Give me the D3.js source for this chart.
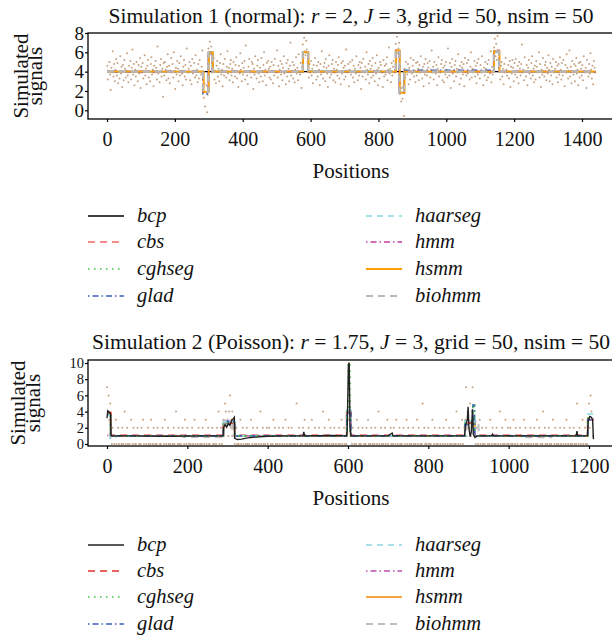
<!DOCTYPE html>
<html>
<head>
<meta charset="utf-8">
<script src="https://cdnjs.cloudflare.com/ajax/libs/d3/7.8.5/d3.min.js"></script>
<style>
  body { margin: 0; background: #fff; }
  svg { display: block; font-family: "Liberation Serif", "DejaVu Serif", serif; }
</style>
</head>
<body>
<div id="chart"></div>
<script>
const W = 612, H = 636;

const methods = ["bcp", "cbs", "cghseg", "glad", "haarseg", "hmm", "hsmm", "biohmm"];

// ---- simulation 1 (normal), observed signal every 2nd position from 1
const sig1 = [
4.6,3.2,4.1,5.0,3.7,2.1,4.4,3.9,6.1,3.5,4.8,3.0,4.2,5.3,3.6,4.9,2.8,4.0,3.3,5.6,3.8,4.5,2.4,4.7,3.1,5.2,4.3,3.4,4.1,5.9,3.6,2.9,4.6,4.0,5.1,3.2,4.4,6.3,3.7,4.8,2.6,4.2,3.5,5.0,4.1,3.0,4.7,3.8,5.4,2.3,4.5,3.9,4.9,3.3,4.0,5.7,3.6,4.3,2.7,4.6,
5.2,3.4,4.1,3.0,4.8,5.5,3.7,4.2,2.5,4.6,3.9,5.1,4.4,3.2,6.6,3.8,4.0,2.9,4.7,5.3,3.5,4.3,1.4,4.9,3.6,5.0,4.2,3.1,4.5,5.8,3.3,4.6,2.8,4.1,5.4,3.9,4.8,3.4,6.0,4.0,2.2,4.4,3.7,5.1,4.3,3.0,4.9,3.6,5.6,4.1,3.8,2.6,4.5,5.2,3.5,4.7,3.2,6.4,4.0,3.9,
4.3,5.0,3.1,4.6,2.7,5.3,3.8,4.1,4.9,3.4,5.7,3.6,4.2,2.9,4.8,3.3,5.2,4.0,3.7,4.5,6.2,2.4,1.3,2.8,0.4,1.9,2.6,-0.2,1.6,6.4,5.2,7.1,5.8,6.6,4.9,3.9,4.7,5.4,3.2,4.1,2.8,4.6,5.1,3.5,4.3,3.0,4.9,5.8,3.7,4.2,2.5,4.8,3.6,5.3,4.0,3.4,4.5,6.1,3.8,4.4,
3.1,4.8,5.2,3.6,4.3,2.9,5.0,4.1,3.5,4.7,5.5,3.3,4.0,2.4,4.6,3.8,5.9,4.2,3.0,4.9,3.7,4.4,5.1,3.2,6.7,4.0,3.6,2.7,4.5,5.3,3.9,4.1,3.4,5.0,4.8,2.2,4.3,3.7,5.6,4.0,3.3,4.6,5.2,3.8,2.9,4.4,3.5,5.4,4.1,3.0,4.7,6.0,3.6,4.2,2.6,4.9,3.9,5.1,4.3,3.4,
4.5,3.2,5.0,4.1,2.8,4.7,3.6,5.3,4.0,3.9,6.2,3.4,4.6,2.5,4.2,5.1,3.7,4.8,3.1,4.4,5.6,3.8,4.0,2.7,4.9,3.5,5.2,4.3,3.0,4.6,7.0,3.6,4.1,5.0,3.3,4.7,2.9,4.2,5.5,3.8,4.4,3.1,5.8,4.0,3.7,4.9,2.3,4.5,6.8,5.4,7.5,6.1,5.7,7.2,6.3,5.0,4.2,3.4,4.8,3.9,
5.1,3.6,4.3,2.8,4.7,3.9,5.4,4.0,3.2,4.6,3.5,5.0,4.2,2.6,4.8,3.7,6.1,4.1,3.3,4.5,4.9,3.0,5.3,4.4,3.8,2.4,4.6,5.7,3.4,4.1,3.7,4.8,5.2,3.1,4.3,3.9,2.9,5.0,4.2,3.6,4.7,5.5,3.3,4.0,2.7,4.9,3.8,5.1,4.4,3.2,4.6,3.5,6.3,4.1,3.9,4.8,2.5,4.2,5.0,3.7,
4.0,5.2,3.4,4.6,2.9,4.3,3.8,5.6,4.1,3.1,4.7,3.6,5.0,4.4,2.2,4.9,3.5,5.3,4.0,3.9,4.5,3.2,6.0,4.2,3.7,4.8,2.8,5.1,4.3,3.4,4.6,5.4,3.6,4.1,3.0,4.9,3.8,5.7,4.2,2.6,4.4,3.3,5.0,4.7,3.9,4.0,2.4,5.2,3.5,4.6,3.7,4.8,5.5,3.1,4.2,6.5,3.8,4.3,2.9,4.9,
3.6,4.5,5.1,3.9,4.2,6.9,5.3,7.6,5.9,6.4,7.0,1.7,2.8,0.9,2.3,1.2,2.5,-0.6,4.3,3.4,5.0,4.1,3.7,4.8,2.7,4.4,3.2,5.4,4.0,3.8,4.6,5.2,3.5,4.1,2.9,4.9,3.6,5.0,4.3,3.1,4.7,3.9,5.6,4.2,3.3,4.5,2.5,4.8,3.7,5.3,4.0,3.6,4.9,4.4,2.8,5.1,3.4,4.2,6.2,3.9,
4.5,3.2,5.0,4.1,3.8,4.7,2.6,4.3,5.5,3.5,4.0,3.9,4.8,5.2,3.1,4.4,2.9,4.6,3.7,5.0,4.2,3.4,6.4,4.0,3.6,4.9,2.3,4.5,5.3,3.8,4.1,3.0,4.7,5.1,3.5,4.3,3.9,5.8,4.2,2.7,4.6,3.3,5.0,4.4,3.7,4.8,2.5,5.4,4.0,3.6,4.9,3.8,5.2,4.1,3.2,4.5,6.0,3.4,4.3,3.9,
4.2,5.1,3.5,4.6,2.8,4.9,3.7,5.3,4.0,3.3,4.7,3.9,5.6,4.1,2.6,4.4,3.6,5.0,4.3,3.1,4.8,3.4,5.2,4.0,3.8,6.1,2.9,4.5,3.7,4.9,6.5,7.4,5.6,6.9,5.2,7.7,6.2,5.8,4.1,3.2,4.6,5.0,3.5,4.3,2.7,4.8,3.9,5.4,4.2,3.6,4.0,4.7,3.3,5.1,2.4,4.5,3.8,5.2,4.4,3.0,
4.9,3.7,5.3,4.1,3.4,4.6,2.8,5.0,4.3,3.6,4.8,6.8,3.9,4.2,3.1,5.5,4.0,3.5,4.7,2.6,4.4,5.2,3.8,4.0,3.3,4.9,5.6,3.6,4.3,2.9,4.6,3.2,5.1,4.5,3.9,4.1,6.0,3.4,4.8,2.4,4.2,3.7,5.4,4.0,3.5,4.7,5.0,3.1,4.4,3.8,5.7,4.2,3.0,4.9,3.6,4.5,2.7,5.3,4.1,3.9,
4.3,5.0,3.4,4.6,2.9,4.8,3.7,5.5,4.2,3.2,4.9,3.6,5.2,4.0,2.5,4.7,3.9,5.8,4.4,3.3,4.1,6.2,3.5,4.5,2.8,5.1,4.0,3.7,4.8,3.0,4.6,5.4,3.8,4.2,2.6,4.9,3.4,5.0,4.3,3.6,4.7,3.1,5.6,4.1,3.9,4.4,2.3,5.2,4.0,3.5,4.8,3.8,5.9,4.2,3.3,4.6,2.7,5.1,4.4,3.9
];

// fitted segments, simulation 1 (breakpoints in positions, levels)
const brk1 = [0, 283, 299, 311, 577, 593, 851, 862, 876, 1140, 1156, 1440];
const brkHsmm1 = [0, 285, 300, 312, 578, 594, 852, 863, 877, 1141, 1157, 1440];
const lvTruth1 = [4.0, 1.9, 6.0, 4.0, 6.0, 4.0, 6.2, 1.8, 4.0, 6.1, 4.0];
const lvCbs1 = [4.0, 1.9, 6.0, 4.0, 6.0, 4.0, 6.2, 1.9, 4.0, 6.2, 4.02];
const lvGlad1 = [4.0, 1.7, 6.0, 4.0, 6.0, 4.0, 6.2, 1.85, 4.13, 6.1, 4.0];
const lvHaar1 = [4.0, 1.9, 6.0, 4.02, 6.0, 4.1, 6.1, 1.8, 4.0, 6.0, 4.0];
const brkBcp1 = [0, 1440];
const lvBcp1 = [4.0];

// ---- simulation 2 (Poisson), observed counts every 2nd position from 0
const sig2 = [
7,4,6,3,5,1,0,2,1,0,1,3,0,1,2,0,1,1,0,2,0,1,4,0,1,2,0,1,0,1,3,1,0,2,1,0,0,1,2,1,0,1,0,2,1,3,0,1,1,0,
1,2,0,1,0,3,1,0,2,1,0,1,0,2,1,1,0,0,1,2,1,0,3,1,0,1,2,0,1,0,1,1,0,2,0,1,4,1,0,2,0,1,0,1,2,1,0,3,1,0,
2,1,0,1,0,1,2,0,1,3,0,1,1,0,2,1,0,1,0,2,1,0,1,3,0,1,2,0,0,1,1,2,0,1,0,1,0,2,1,4,0,1,2,0,1,3,2,5,4,2,
3,1,4,6,2,3,4,2,3,0,1,2,0,1,0,1,3,0,1,2,0,1,1,0,2,0,1,0,1,3,1,0,2,1,0,1,0,2,1,0,1,4,0,1,2,0,1,0,1,2,
0,1,2,1,0,1,0,3,1,2,0,1,0,1,2,0,1,1,0,2,1,0,3,1,0,1,2,0,1,0,2,1,0,1,0,1,5,0,1,2,1,0,1,0,2,1,3,0,1,0,
1,2,0,1,0,3,1,0,1,2,0,1,1,0,2,1,0,1,0,4,1,2,0,1,0,1,3,0,2,1,0,1,0,2,1,0,1,1,0,2,0,1,3,0,1,2,0,1,0,4,
3,10,5,4,1,0,2,1,0,1,0,3,1,2,0,1,0,1,2,1,0,1,0,2,1,3,0,1,0,2,1,0,1,0,2,1,0,1,4,0,1,2,0,1,0,1,2,0,1,3,
0,1,1,2,0,1,0,2,1,0,3,1,0,1,2,0,1,0,1,2,1,0,1,3,0,2,1,0,1,0,1,2,0,1,0,1,3,0,2,1,0,1,0,5,1,2,0,1,0,1,
2,0,1,0,1,3,1,0,2,1,0,1,0,1,2,0,1,1,0,2,1,0,3,1,0,1,2,0,1,0,1,2,0,1,0,4,1,0,2,1,0,1,3,0,1,2,3,7,2,4,
3,2,5,1,4,7,3,2,1,0,2,1,0,1,3,0,1,2,0,1,0,1,2,1,0,1,0,3,1,0,2,1,0,1,0,2,1,0,1,4,0,1,2,0,1,0,3,1,0,2,
0,1,2,0,1,0,3,1,0,2,1,0,1,1,2,0,1,0,1,3,0,2,1,0,1,0,1,2,0,1,1,0,2,1,0,3,0,1,2,1,0,1,0,4,1,2,0,1,0,1,
2,0,1,0,1,3,1,0,2,1,0,1,0,1,2,0,1,1,0,2,1,0,3,1,0,1,2,0,1,0,1,2,0,1,0,5,1,0,2,1,0,1,3,0,1,2,0,1,0,3,
5,2,6,4,3,1
];

const brk2 = [0, 9, 290, 318, 597, 607, 891, 916, 1197, 1212];
const lvHsmm2 = [3.8, 1.0, 2.6, 1.0, 3.85, 1.0, 2.55, 1.0, 3.0];
const lvCbs2 = [3.9, 1.07, 2.6, 1.07, 4.0, 1.07, 2.6, 1.07, 3.1];
const lvHmm2 = [1.05, 1.0, 2.6, 1.0, 3.9, 1.0, 2.6, 1.0, 3.0];
const brkCgh2 = [0, 9, 290, 318, 597, 601, 605, 891, 911, 915, 1197, 1212];
const lvCgh2 = [3.8, 1.0, 2.6, 1.0, 4.0, 10.0, 1.0, 2.5, 4.9, 1.0, 3.2];
const brkGlad2 = [0, 9, 290, 300, 318, 597, 607, 891, 911, 915, 1197, 1212];
const lvGlad2 = [3.7, 1.0, 2.2, 2.8, 1.0, 3.8, 1.0, 2.4, 4.8, 1.0, 3.0];
const brkHaar2 = [0, 8, 22, 290, 318, 597, 607, 891, 916, 1197, 1212];
const lvHaar2 = [3.6, 0.7, 1.0, 2.7, 1.0, 4.2, 1.0, 2.9, 1.0, 3.7];
const brkBio2 = [0, 9, 190, 285, 290, 312, 597, 607, 895, 925, 1030, 1105, 1197, 1212];
const lvBio2 = [3.8, 1.0, 0.85, 1.0, 2.9, 1.0, 3.9, 1.0, 2.8, 1.0, 0.82, 1.0, 3.0];
const bcpPos2 = [0,2,6,9,10,60,150,250,289,290,294,298,302,306,310,314,317,318,325,335,350,370,400,440,488,490,492,560,596,598,601,603,605,607,700,710,712,890,893,897,899,901,904,907,910,912,916,922,958,960,962,1168,1170,1172,1196,1198,1202,1206,1209,1211];
const bcpVal2 = [3.2,4.1,3.9,3.7,1.0,1.0,0.95,1.0,1.0,2.0,2.4,2.1,2.5,2.3,2.9,3.1,3.3,0.7,0.55,0.6,0.75,0.85,0.95,1.0,1.0,1.5,1.0,1.05,1.0,1.6,9.8,10.0,2.0,1.0,1.0,1.35,1.0,1.0,2.4,3.0,4.6,2.0,0.9,1.5,4.3,1.2,0.8,1.0,1.0,1.2,1.0,1.0,1.6,1.0,1.0,2.8,3.4,3.3,3.0,0.6];

// ---- styles
const pointColor = "#c4a285";
const style1 = {
  bcp:     { color: "#000000", dash: null,      w: 1.4 },
  cbs:     { color: "#f76262", dash: "7,5",     w: 1.6 },
  cghseg:  { color: "#3cc43c", dash: "1.5,4.5", w: 1.6 },
  glad:    { color: "#3d5fbf", dash: "1.5,3,6,3", w: 1.6 },
  haarseg: { color: "#8ad6e0", dash: "6,5",     w: 1.6 },
  hmm:     { color: "#c33fa2", dash: "1.5,3,6,3", w: 1.6 },
  hsmm:    { color: "#ffa000", dash: null,      w: 1.8 },
  biohmm:  { color: "#b8b8b8", dash: "7,5",     w: 2.2 }
};
const style2 = Object.assign({}, style1, {
  bcp:    { color: "#222222", dash: null, w: 1.4 },
  cbs:    { color: "#e5312e", dash: "7,5", w: 1.6 },
  hmm:    { color: "#cc7cc4", dash: "1.5,3,6,3", w: 1.8 },
  hsmm:   { color: "#f5a73c", dash: null, w: 2.0 },
  biohmm: { color: "#bdbdbd", dash: "7,5", w: 2.0 }
});

function steps(brk, lv) {
  const out = [];
  lv.forEach((v, k) => { out.push([brk[k], v]); out.push([brk[k + 1], v]); });
  return out;
}

const panels = [
  {
    id: 1, title: ["Simulation 1 (normal): ", "r", " = 2, ", "J", " = 3, grid = 50, nsim = 50"],
    titleY: 23, top: 33, bottom: 119, yDomain: [-0.9, 8], yTicks: [0, 2, 4, 6, 8], yFont: 19,
    xDomain: [0, 1400], x1: 582, xTicks: [0, 200, 400, 600, 800, 1000, 1200, 1400],
    labX: [28, 42], posY: 178, legendY: [216, 242, 269, 296],
    signal: sig1, sigStart: 1, style: style1,
    order: methods,
    fits: {
      bcp: steps(brkBcp1, lvBcp1), cbs: steps(brk1, lvCbs1), cghseg: steps(brk1, lvTruth1),
      glad: steps(brk1, lvGlad1), haarseg: steps(brk1, lvHaar1), hmm: steps(brk1, lvTruth1),
      hsmm: steps(brkHsmm1, lvTruth1), biohmm: steps(brk1, lvTruth1)
    }
  },
  {
    id: 2, title: ["Simulation 2 (Poisson): ", "r", " = 1.75, ", "J", " = 3, grid = 50, nsim = 50"],
    titleY: 349, top: 360, bottom: 446, yDomain: [-0.25, 10.37], yTicks: [0, 2, 4, 6, 8, 10], yFont: 14.5,
    xDomain: [0, 1200], x1: 589, xTicks: [0, 200, 400, 600, 800, 1000, 1200],
    labX: [25, 40], posY: 505, legendY: [545, 571, 597, 624],
    signal: sig2, sigStart: 0, style: style2,
    order: ["biohmm", "hsmm", "cbs", "hmm", "haarseg", "glad", "cghseg", "bcp"],
    fits: {
      bcp: bcpPos2.map((p, i) => [p, bcpVal2[i]]), cbs: steps(brk2, lvCbs2), cghseg: steps(brkCgh2, lvCgh2),
      glad: steps(brkGlad2, lvGlad2), haarseg: steps(brkHaar2, lvHaar2), hmm: steps(brk2, lvHmm2),
      hsmm: steps(brk2, lvHsmm2), biohmm: steps(brkBio2, lvBio2)
    }
  }
];

const svg = d3.select("#chart").append("svg").attr("width", W).attr("height", H);
const left = 88;

panels.forEach(p => {
  const g = svg.append("g");
  const x = d3.scaleLinear().domain(p.xDomain).range([107, p.x1]);
  const y = d3.scaleLinear().domain(p.yDomain).range([p.bottom, p.top]);

  g.append("clipPath").attr("id", "clip" + p.id)
    .append("rect").attr("x", left).attr("y", p.top).attr("width", W - left).attr("height", p.bottom - p.top);

  const plot = g.append("g").attr("clip-path", `url(#clip${p.id})`);

  plot.append("g").selectAll("circle")
    .data(p.signal)
    .join("circle")
    .attr("cx", (d, i) => x(p.sigStart + i * 2))
    .attr("cy", d => y(d))
    .attr("r", 1.0)
    .attr("fill", pointColor);

  const line = d3.line().x(d => x(d[0])).y(d => y(d[1]));
  p.order.forEach(m => {
    const s = p.style[m];
    plot.append("path")
      .datum(p.fits[m])
      .attr("d", line)
      .attr("fill", "none")
      .attr("stroke", s.color)
      .attr("stroke-width", s.w)
      .attr("stroke-dasharray", s.dash);
  });

  // frame
  g.append("rect")
    .attr("x", left).attr("y", p.top)
    .attr("width", W - left + 10).attr("height", p.bottom - p.top)
    .attr("fill", "none").attr("stroke", "#000").attr("stroke-width", 1.3);

  const yAxis = g.append("g").attr("transform", `translate(${left},0)`)
    .call(d3.axisLeft(y).tickValues(p.yTicks).tickSize(3).tickPadding(1).tickFormat(d3.format("d")));
  const xAxis = g.append("g").attr("transform", `translate(0,${p.bottom})`)
    .call(d3.axisBottom(x).tickValues(p.xTicks).tickSize(3).tickFormat(d3.format("d")));
  [yAxis, xAxis].forEach(a => {
    a.select(".domain").remove();
    a.selectAll("line").attr("stroke", "#000").attr("stroke-width", 1.2);
    a.selectAll("text").attr("font-family", "Liberation Serif").attr("font-size", 20).attr("fill", "#111");
  });
  yAxis.selectAll("text").attr("font-size", p.yFont);
  xAxis.selectAll("text").attr("y", 27).attr("dy", 0);

  // title
  const t = g.append("text").attr("x", 351).attr("y", p.titleY)
    .attr("text-anchor", "middle").attr("font-size", 21.5).attr("fill", "#111");
  p.title.forEach((s, i) => t.append("tspan").text(s).attr("font-style", i % 2 ? "italic" : null));

  // axis titles
  const cy = (p.top + p.bottom) / 2;
  ["Simulated", "signals"].forEach((s, i) => {
    g.append("text")
      .attr("transform", `translate(${p.labX[i]},${cy}) rotate(-90)`)
      .attr("text-anchor", "middle").attr("font-size", 21).attr("fill", "#111").text(s);
  });
  g.append("text").attr("x", 351).attr("y", p.posY)
    .attr("text-anchor", "middle").attr("font-size", 21).attr("fill", "#111").text("Positions");

  // legend
  methods.forEach((m, i) => {
    const col = Math.floor(i / 4), row = i % 4;
    const lx = col ? 366 : 88, ly = p.legendY[row];
    const s = p.style[m];
    g.append("line").attr("x1", lx).attr("x2", lx + 36).attr("y1", ly).attr("y2", ly)
      .attr("stroke", s.color).attr("stroke-width", s.w).attr("stroke-dasharray", s.dash);
    g.append("text").attr("x", lx + 49).attr("y", ly + 6)
      .attr("font-size", 20.5).attr("font-style", "italic").attr("fill", "#111").text(m);
  });
});
</script>
</body>
</html>
